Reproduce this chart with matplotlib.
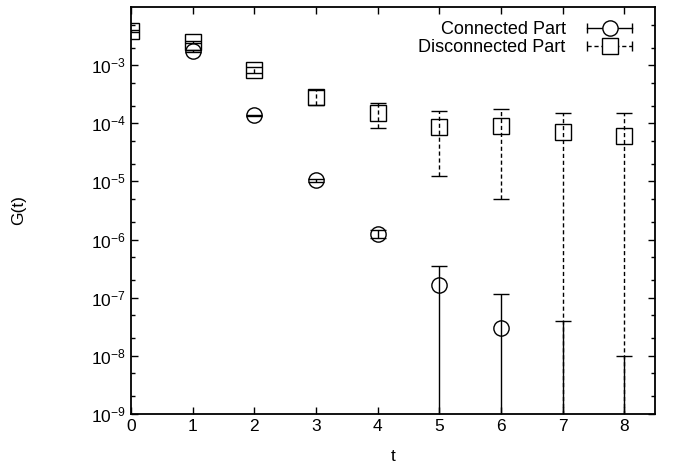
import numpy as np
import matplotlib
matplotlib.use('Agg')
import matplotlib.pyplot as plt
from matplotlib.lines import Line2D
from matplotlib.legend_handler import HandlerLine2D, HandlerTuple
from matplotlib.ticker import FixedLocator, LogFormatterSciNotation, NullFormatter

plt.rcParams['font.family'] = ['Liberation Sans', 'DejaVu Sans']
plt.rcParams['font.size'] = 12
plt.rcParams['mathtext.fontset'] = 'custom'
plt.rcParams['mathtext.rm'] = 'Liberation Sans'
plt.rcParams['axes.unicode_minus'] = False

# connected part (t=7,8 central values are negative -> only the bar shows)
conn_t = [1, 2, 3, 4, 5, 6, 7, 8]
conn_val = [1.75e-3, 1.38e-4, 1.04e-5, 1.25e-6, 1.67e-7, 3.0e-8, -1.0e-8, -4.0e-8]
conn_err = [5e-5, 3e-6, 8e-7, 2e-7, 1.8e-7, 8.6e-8, 5e-8, 5e-8]

# disconnected part
disc_t = [0, 1, 2, 3, 4, 5, 6, 7, 8]
disc_val = [3.9e-3, 2.46e-3, 8.2e-4, 2.88e-4, 1.53e-4, 8.65e-5, 9.0e-5, 7.2e-5, 6.0e-5]
disc_err = [2e-4, 1e-4, 1e-4, 8e-5, 7e-5, 7.4e-5, 8.5e-5, 7.9e-5, 9.3e-5]

labels = ['Connected Part', 'Disconnected Part']

fig = plt.figure(figsize=(6.73, 4.69), dpi=100)
ax = fig.add_axes([0.1947, 0.1173, 0.7786, 0.8677])
ax.set_yscale('log', nonpositive='clip')

dash = (0, (3, 2))

eb1 = ax.errorbar(conn_t, conn_val, yerr=conn_err, fmt='o', ms=11, mfc='none', mec='k',
                  mew=1.0, ecolor='k', elinewidth=1.0, capsize=6, capthick=1.0)
eb2 = ax.errorbar(disc_t, disc_val, yerr=disc_err, fmt='s', ms=12, mfc='none', mec='k',
                  mew=1.0, ecolor='k', elinewidth=1.0, capsize=6, capthick=1.0)
eb2[2][0].set_linestyle(dash)

ax.set_xlim(0, 8.5)
ax.set_ylim(1e-9, 1e-2)
ax.set_xticks(range(9))
ax.yaxis.set_major_locator(FixedLocator([10.0 ** k for k in range(-9, -2)]))
ax.yaxis.set_major_formatter(LogFormatterSciNotation())
ax.yaxis.set_minor_locator(FixedLocator([m * 10.0 ** k for k in range(-9, -2) for m in (2, 5)]))
ax.yaxis.set_minor_formatter(NullFormatter())

ax.tick_params(which='both', direction='in', top=True, right=True, width=1.0, labelsize=12.5)
ax.tick_params(which='major', length=5)
ax.tick_params(which='minor', length=3)
for s in ax.spines.values():
    s.set_linewidth(1.3)

ax.set_xlabel('t', fontsize=12.5)
ax.set_ylabel('G(t)', fontsize=12.5)
ax.xaxis.set_label_coords(0.5, -0.086)
ax.yaxis.set_label_coords(-0.2, 0.5)

# gnuplot-like legend samples: horizontal bar with end caps and marker
c_line = Line2D([], [], color='k', lw=1.0)
c_caps = Line2D([], [], ls='none', marker='|', ms=7, mew=1.0, color='k')
c_mark = Line2D([], [], ls='none', marker='o', ms=11, mfc='white', mec='k', mew=1.0)
d_line = Line2D([], [], color='k', lw=1.0, ls=dash)
d_caps = Line2D([], [], ls='none', marker='|', ms=7, mew=1.0, color='k')
d_mark = Line2D([], [], ls='none', marker='s', ms=12, mfc='white', mec='k', mew=1.0)

ax.legend([(c_line, c_caps, c_mark), (d_line, d_caps, d_mark)], labels,
          handler_map={tuple: HandlerTuple(ndivide=1, pad=0),
                       c_caps: HandlerLine2D(numpoints=2, marker_pad=0),
                       d_caps: HandlerLine2D(numpoints=2, marker_pad=0)},
          loc='upper right', bbox_to_anchor=(0.981, 0.996), markerfirst=False,
          frameon=False, fontsize=13, handlelength=2.5, handletextpad=1.2,
          labelspacing=0.05, borderaxespad=0.3)

fig.savefig('out.png', dpi=100)
